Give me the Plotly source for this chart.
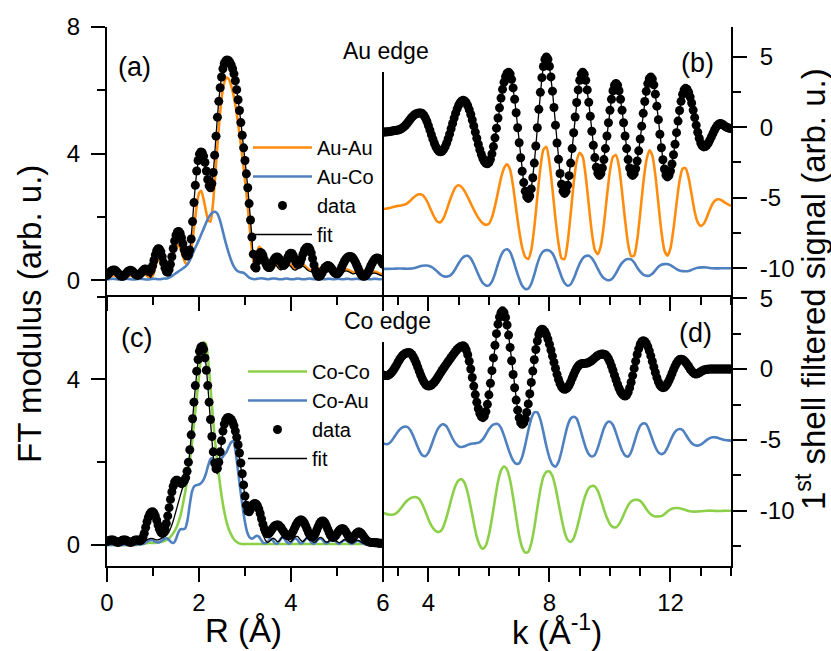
import plotly.graph_objects as go

W, H = 831, 651
FONT = "Liberation Sans, Arial, sans-serif"

# ---------------- data ----------------
# R-space (Angstrom) sampling
r_data_start, r_data_step = 0.0, 0.03
r_line_start, r_line_step = 0.0, 0.05
# k-space (1/Angstrom) sampling
k_data_start, k_data_step = 2.5, 0.05
k_line_start, k_line_step = 2.5, 0.1

# (a) Au edge, FT modulus
au_data = [
    0.15, 0.20, 0.25, 0.29, 0.31, 0.32, 0.31, 0.27, 0.22, 0.17,
    0.13, 0.12, 0.13, 0.17, 0.22, 0.27, 0.30, 0.31, 0.30, 0.26,
    0.21, 0.17, 0.15, 0.16, 0.20, 0.25, 0.30, 0.34, 0.35, 0.33,
    0.28, 0.26, 0.32, 0.45, 0.62, 0.80, 0.93, 0.99, 0.98, 0.90,
    0.74, 0.55, 0.38, 0.27, 0.25, 0.33, 0.50, 0.74, 1.00, 1.24,
    1.42, 1.52, 1.54, 1.48, 1.34, 1.15, 0.96, 0.82, 0.76, 0.80,
    0.95, 1.30, 1.85, 2.45, 3.00, 3.45, 3.78, 3.98, 4.05, 4.03,
    3.92, 3.72, 3.45, 3.18, 2.98, 2.92, 3.05, 3.40, 3.95, 4.55,
    5.15, 5.65, 6.08, 6.42, 6.68, 6.85, 6.93, 6.96, 6.94, 6.88,
    6.80, 6.68, 6.52, 6.30, 6.02, 5.70, 5.36, 4.98, 4.58, 4.18,
    3.78, 3.36, 2.92, 2.42, 1.90, 1.36, 0.82, 0.42, 0.38, 0.60,
    0.80, 0.87, 0.86, 0.78, 0.65, 0.53, 0.44, 0.40, 0.40, 0.46,
    0.56, 0.65, 0.71, 0.73, 0.72, 0.66, 0.57, 0.49, 0.46, 0.50,
    0.60, 0.72, 0.81, 0.85, 0.84, 0.77, 0.66, 0.56, 0.50, 0.50,
    0.56, 0.68, 0.82, 0.94, 1.01, 1.04, 1.03, 0.98, 0.86, 0.68,
    0.48, 0.30, 0.18, 0.12, 0.12, 0.16, 0.24, 0.33, 0.40, 0.44,
    0.46, 0.45, 0.41, 0.35, 0.28, 0.23, 0.20, 0.20, 0.24, 0.31,
    0.40, 0.50, 0.59, 0.66, 0.71, 0.74, 0.75, 0.74, 0.71, 0.65,
    0.57, 0.47, 0.37, 0.27, 0.19, 0.14, 0.12, 0.13, 0.17, 0.24,
    0.33, 0.43, 0.52, 0.60, 0.66, 0.69, 0.70, 0.68, 0.64, 0.57,
    0.50,
]
au_fit = [
    0.10, 0.18, 0.26, 0.31, 0.29, 0.21, 0.13, 0.12, 0.18, 0.26,
    0.30, 0.28, 0.21, 0.16, 0.17, 0.24, 0.31, 0.32, 0.20, 0.08,
    0.35, 0.78, 0.97, 0.96, 0.72, 0.38, 0.24, 0.34, 0.68, 1.08,
    1.40, 1.53, 1.45, 1.15, 0.85, 0.76, 0.98, 1.70, 2.65, 3.40,
    3.85, 4.04, 3.95, 3.55, 3.10, 2.90, 3.25, 4.15, 5.15, 5.95,
    6.50, 6.82, 6.95, 6.93, 6.80, 6.55, 6.18, 5.70, 5.12, 4.45,
    3.78, 3.08, 2.25, 1.36, 0.55, 0.55, 0.82, 0.86, 0.70, 0.52,
    0.45, 0.50, 0.55, 0.52, 0.42, 0.34, 0.33, 0.40, 0.47, 0.48,
    0.42, 0.34, 0.32, 0.36, 0.42, 0.44, 0.40, 0.33, 0.28, 0.27,
    0.30, 0.33, 0.33, 0.29, 0.25, 0.24, 0.26, 0.29, 0.30, 0.27,
    0.23, 0.21, 0.23, 0.27, 0.29, 0.27, 0.23, 0.20, 0.21, 0.24,
    0.26, 0.25, 0.21, 0.17, 0.17, 0.20, 0.22, 0.21, 0.18, 0.15,
    0.13,
]
au_auau = [
    0.05, 0.08, 0.12, 0.15, 0.14, 0.10, 0.06, 0.05, 0.08, 0.12,
    0.14, 0.12, 0.08, 0.06, 0.08, 0.12, 0.16, 0.16, 0.10, 0.06,
    0.15, 0.40, 0.62, 0.66, 0.52, 0.30, 0.18, 0.25, 0.50, 0.82,
    1.05, 1.10, 0.98, 0.75, 0.55, 0.50, 0.70, 1.15, 1.75, 2.35,
    2.75, 2.82, 2.55, 2.20, 1.90, 1.85, 2.35, 3.25, 4.25, 5.15,
    5.85, 6.25, 6.40, 6.35, 6.15, 5.85, 5.45, 4.95, 4.40, 3.80,
    3.15, 2.45, 1.70, 0.95, 0.45, 0.70, 1.05, 1.00, 0.80, 0.60,
    0.55, 0.62, 0.65, 0.58, 0.45, 0.38, 0.40, 0.48, 0.55, 0.55,
    0.48, 0.40, 0.38, 0.42, 0.48, 0.50, 0.45, 0.38, 0.33, 0.32,
    0.35, 0.38, 0.38, 0.34, 0.30, 0.29, 0.31, 0.34, 0.35, 0.32,
    0.28, 0.26, 0.28, 0.32, 0.34, 0.32, 0.28, 0.25, 0.26, 0.29,
    0.31, 0.30, 0.26, 0.22, 0.22, 0.25, 0.27, 0.26, 0.23, 0.20,
    0.18,
]
au_auco = [
    0.02, 0.03, 0.04, 0.04, 0.03, 0.02, 0.02, 0.03, 0.04, 0.04,
    0.03, 0.02, 0.02, 0.03, 0.04, 0.04, 0.03, 0.02, 0.02, 0.03,
    0.04, 0.04, 0.03, 0.03, 0.04, 0.05, 0.05, 0.08, 0.12, 0.17,
    0.22, 0.27, 0.32, 0.37, 0.42, 0.50, 0.62, 0.78, 0.96, 1.12,
    1.28, 1.45, 1.62, 1.80, 1.95, 2.07, 2.14, 2.16, 2.10, 1.92,
    1.65, 1.35, 1.08, 0.84, 0.62, 0.45, 0.34, 0.28, 0.25, 0.24,
    0.20, 0.13, 0.07, 0.04, 0.03, 0.04, 0.05, 0.06, 0.05, 0.04,
    0.03, 0.04, 0.05, 0.05, 0.04, 0.03, 0.03, 0.04, 0.05, 0.04,
    0.03, 0.03, 0.04, 0.05, 0.04, 0.03, 0.03, 0.04, 0.05, 0.04,
    0.03, 0.03, 0.04, 0.04, 0.03, 0.03, 0.04, 0.04, 0.03, 0.03,
    0.04, 0.04, 0.03, 0.03, 0.04, 0.04, 0.03, 0.03, 0.04, 0.04,
    0.03, 0.03, 0.04, 0.04, 0.03, 0.03, 0.04, 0.04, 0.03, 0.03,
    0.03,
]

# (c) Co edge, FT modulus
co_data = [
    0.08, 0.10, 0.11, 0.12, 0.12, 0.11, 0.09, 0.07, 0.06, 0.07,
    0.09, 0.11, 0.12, 0.12, 0.11, 0.09, 0.07, 0.06, 0.07, 0.09,
    0.11, 0.12, 0.12, 0.11, 0.10, 0.12, 0.18, 0.28, 0.42, 0.56,
    0.67, 0.75, 0.79, 0.80, 0.77, 0.70, 0.60, 0.48, 0.38, 0.31,
    0.28, 0.30, 0.38, 0.52, 0.70, 0.90, 1.10, 1.28, 1.42, 1.52,
    1.56, 1.56, 1.53, 1.50, 1.48, 1.50, 1.55, 1.62, 1.78, 2.00,
    2.30, 2.66, 3.05, 3.45, 3.85, 4.20, 4.48, 4.68, 4.78, 4.80,
    4.73, 4.52, 4.22, 3.85, 3.45, 3.03, 2.62, 2.25, 1.98, 1.84,
    1.85, 2.00, 2.25, 2.52, 2.75, 2.92, 3.02, 3.07, 3.08, 3.06,
    3.03, 2.97, 2.88, 2.75, 2.60, 2.42, 2.22, 1.98, 1.72, 1.45,
    1.18, 0.96, 0.82, 0.80, 0.86, 0.93, 0.98, 1.00, 0.99, 0.95,
    0.87, 0.76, 0.63, 0.50, 0.39, 0.31, 0.27, 0.27, 0.30, 0.35,
    0.40, 0.44, 0.47, 0.48, 0.48, 0.46, 0.42, 0.37, 0.32, 0.27,
    0.24, 0.22, 0.22, 0.24, 0.28, 0.34, 0.41, 0.48, 0.54, 0.58,
    0.60, 0.60, 0.58, 0.53, 0.46, 0.38, 0.30, 0.24, 0.20, 0.19,
    0.22, 0.28, 0.36, 0.44, 0.51, 0.56, 0.58, 0.57, 0.53, 0.46,
    0.38, 0.30, 0.23, 0.19, 0.18, 0.20, 0.24, 0.29, 0.34, 0.37,
    0.39, 0.39, 0.37, 0.32, 0.26, 0.20, 0.16, 0.15, 0.17, 0.21,
    0.25, 0.29, 0.31, 0.31, 0.29, 0.25, 0.20, 0.15, 0.11, 0.08,
    0.07, 0.06, 0.06, 0.06, 0.05, 0.05, 0.05, 0.04, 0.04, 0.04,
    0.04,
]
co_fit = [
    0.02, 0.03, 0.04, 0.04, 0.03, 0.03, 0.04, 0.05, 0.05, 0.04,
    0.03, 0.04, 0.05, 0.05, 0.05, 0.06, 0.08, 0.11, 0.14, 0.16,
    0.15, 0.13, 0.12, 0.14, 0.17, 0.20, 0.24, 0.32, 0.45, 0.62,
    0.82, 1.02, 1.22, 1.40, 1.55, 1.80, 2.25, 2.90, 3.55, 4.15,
    4.58, 4.78, 4.74, 4.38, 3.72, 2.98, 2.28, 1.80, 1.72, 2.10,
    2.55, 2.88, 3.04, 3.08, 3.02, 2.85, 2.60, 2.30, 1.95, 1.55,
    1.18, 0.90, 0.80, 0.86, 0.90, 0.82, 0.62, 0.40, 0.22, 0.10,
    0.06, 0.10, 0.16, 0.14, 0.08, 0.10, 0.18, 0.22, 0.18, 0.10,
    0.08, 0.14, 0.20, 0.20, 0.13, 0.08, 0.12, 0.19, 0.18, 0.11,
    0.06, 0.09, 0.16, 0.18, 0.14, 0.08, 0.07, 0.12, 0.15, 0.13,
    0.08, 0.05, 0.08, 0.12, 0.12, 0.08, 0.05, 0.05, 0.09, 0.11,
    0.09, 0.05, 0.03, 0.03, 0.03, 0.03, 0.03, 0.02, 0.02, 0.02,
    0.02,
]
co_coco = [
    0.00, 0.00, 0.00, 0.00, 0.00, 0.00, 0.00, 0.00, 0.00, 0.00,
    0.00, 0.00, 0.00, 0.00, 0.01, 0.02, 0.03, 0.04, 0.05, 0.05,
    0.05, 0.05, 0.06, 0.07, 0.08, 0.10, 0.12, 0.16, 0.22, 0.30,
    0.40, 0.54, 0.72, 0.98, 1.28, 1.62, 2.02, 2.50, 3.02, 3.55,
    4.08, 4.62, 4.90, 4.86, 4.45, 3.80, 3.10, 2.50, 1.98, 1.52,
    1.12, 0.80, 0.55, 0.37, 0.25, 0.15, 0.09, 0.05, 0.03, 0.02,
    0.02, 0.02, 0.02, 0.02, 0.02, 0.02, 0.02, 0.02, 0.02, 0.02,
    0.02, 0.02, 0.02, 0.02, 0.02, 0.02, 0.02, 0.02, 0.02, 0.02,
    0.02, 0.02, 0.02, 0.02, 0.02, 0.02, 0.02, 0.02, 0.02, 0.02,
    0.02, 0.02, 0.02, 0.02, 0.02, 0.02, 0.02, 0.02, 0.02, 0.02,
    0.02, 0.02, 0.02, 0.02, 0.02, 0.02, 0.02, 0.02, 0.02, 0.02,
    0.02, 0.02, 0.02, 0.02, 0.02, 0.02, 0.02, 0.02, 0.02, 0.02,
    0.02,
]
co_coau = [
    0.00, 0.00, 0.00, 0.00, 0.00, 0.00, 0.00, 0.00, 0.00, 0.00,
    0.00, 0.00, 0.00, 0.01, 0.01, 0.02, 0.03, 0.06, 0.10, 0.12,
    0.11, 0.08, 0.06, 0.07, 0.11, 0.15, 0.16, 0.12, 0.06, 0.05,
    0.14, 0.30, 0.38, 0.38, 0.40, 0.60, 0.98, 1.30, 1.42, 1.45,
    1.46, 1.50, 1.58, 1.72, 1.92, 2.08, 2.10, 1.88, 1.78, 1.95,
    2.10, 2.18, 2.25, 2.38, 2.48, 2.50, 2.22, 1.78, 1.32, 0.90,
    0.55, 0.30, 0.18, 0.15, 0.18, 0.22, 0.20, 0.12, 0.05, 0.04,
    0.08, 0.15, 0.12, 0.04, 0.03, 0.10, 0.18, 0.16, 0.08, 0.03,
    0.06, 0.13, 0.16, 0.11, 0.04, 0.05, 0.12, 0.16, 0.12, 0.05,
    0.03, 0.08, 0.14, 0.15, 0.10, 0.04, 0.05, 0.11, 0.14, 0.11,
    0.05, 0.03, 0.07, 0.11, 0.11, 0.07, 0.03, 0.04, 0.08, 0.10,
    0.08, 0.04, 0.02, 0.02, 0.03, 0.03, 0.02, 0.02, 0.02, 0.02,
    0.02,
]

# (b) Au edge, 1st shell filtered signal
kb_data = [
    -0.35, -0.35, -0.34, -0.33, -0.32, -0.30, -0.28, -0.26, -0.24, -0.22,
    -0.20, -0.17, -0.12, -0.05, 0.04, 0.15, 0.28, 0.42, 0.56, 0.69,
    0.80, 0.89, 0.95, 0.99, 1.01, 1.00, 0.96, 0.84, 0.66, 0.41,
    0.11, -0.21, -0.54, -0.86, -1.16, -1.41, -1.59, -1.71, -1.75, -1.71,
    -1.59, -1.40, -1.15, -0.84, -0.49, -0.11, 0.26, 0.64, 0.99, 1.30,
    1.55, 1.74, 1.86, 1.90, 1.86, 1.73, 1.52, 1.24, 0.90, 0.51,
    0.09, -0.35, -0.79, -1.21, -1.60, -1.94, -2.22, -2.43, -2.56, -2.60,
    -2.52, -2.28, -1.89, -1.38, -0.76, -0.07, 0.65, 1.37, 2.06, 2.68,
    3.19, 3.58, 3.82, 3.90, 3.77, 3.39, 2.78, 1.98, 1.02, -0.04,
    -1.11, -2.17, -3.13, -3.93, -4.54, -4.92, -5.05, -4.88, -4.38, -3.59,
    -2.55, -1.34, -0.04, 1.26, 2.47, 3.51, 4.30, 4.80, 4.97, 4.81,
    4.32, 3.56, 2.55, 1.39, 0.14, -1.12, -2.28, -3.29, -4.05, -4.54,
    -4.70, -4.55, -4.12, -3.44, -2.55, -1.52, -0.40, 0.72, 1.75, 2.64,
    3.32, 3.75, 3.90, 3.75, 3.32, 2.64, 1.76, 0.77, -0.29, -1.28,
    -2.16, -2.84, -3.27, -3.42, -3.29, -2.90, -2.30, -1.52, -0.63, 0.31,
    1.20, 1.98, 2.58, 2.97, 3.10, 2.97, 2.58, 1.98, 1.20, 0.31,
    -0.63, -1.52, -2.30, -2.90, -3.29, -3.42, -3.30, -2.95, -2.40, -1.68,
    -0.84, 0.07, 0.98, 1.82, 2.54, 3.09, 3.44, 3.56, 3.42, 3.00,
    2.34, 1.49, 0.53, -0.50, -1.46, -2.31, -2.97, -3.39, -3.53, -3.42,
    -3.11, -2.61, -1.96, -1.21, -0.39, 0.43, 1.18, 1.83, 2.33, 2.64,
    2.75, 2.68, 2.47, 2.14, 1.71, 1.21, 0.68, 0.14, -0.36, -0.79,
    -1.12, -1.33, -1.40, -1.37, -1.27, -1.12, -0.92, -0.69, -0.46, -0.23,
    -0.03, 0.12, 0.22, 0.25, 0.22, 0.15, 0.07, 0.00, -0.05, -0.08,
    -0.10,
]
kb_auau = [
    -5.80, -5.78, -5.74, -5.68, -5.62, -5.58,
    -5.55, -5.50, -5.40, -5.22, -5.00, -4.83, -4.76, -4.80, -5.05, -5.45,
    -5.95, -6.40, -6.70, -6.74, -6.45, -5.90, -5.25, -4.68, -4.25, -4.12,
    -4.25, -4.55, -4.95, -5.40, -5.85, -6.25, -6.58, -6.82, -6.93, -6.85,
    -6.40, -5.60, -4.60, -3.60, -2.90, -2.64, -3.00, -4.20, -5.80, -7.35,
    -8.55, -9.20, -9.35, -8.70, -7.10, -4.95, -2.90, -1.60, -1.40, -2.50,
    -4.40, -6.50, -8.25, -9.30, -9.35, -8.20, -6.20, -4.00, -2.40, -1.82,
    -2.10, -3.50, -5.50, -7.45, -8.70, -9.00, -8.40, -6.90, -4.90, -3.10,
    -2.10, -1.98, -2.80, -4.60, -6.60, -8.30, -9.15, -9.10, -8.00, -6.10,
    -4.00, -2.40, -1.65, -2.00, -3.40, -5.40, -7.40, -8.75, -9.12, -8.60,
    -7.20, -5.40, -3.80, -2.95, -2.90, -3.60, -4.80, -6.00, -6.75, -7.00,
    -6.85, -6.40, -5.85, -5.40, -5.15, -5.11, -5.20, -5.35, -5.48, -5.58,
]
kb_auco = [
    -10.05, -10.05, -10.05, -10.04, -10.03, -10.02,
    -10.02, -10.03, -10.04, -10.03, -10.00, -9.95, -9.88, -9.83, -9.81, -9.82,
    -9.90, -10.05, -10.25, -10.45, -10.57, -10.60, -10.55, -10.35, -10.02, -9.65,
    -9.33, -9.15, -9.12, -9.30, -9.70, -10.20, -10.68, -11.05, -11.22, -11.22,
    -10.95, -10.40, -9.70, -9.10, -8.75, -8.66, -8.85, -9.40, -10.10, -10.75,
    -11.25, -11.47, -11.45, -11.10, -10.45, -9.70, -9.10, -8.80, -8.72, -8.75,
    -8.95, -9.40, -10.00, -10.60, -11.05, -11.24, -11.15, -10.75, -10.20, -9.68,
    -9.30, -9.14, -9.12, -9.28, -9.62, -10.05, -10.45, -10.72, -10.83, -10.84,
    -10.68, -10.35, -9.95, -9.62, -9.42, -9.35, -9.38, -9.60, -9.95, -10.25,
    -10.45, -10.53, -10.53, -10.40, -10.15, -9.90, -9.76, -9.71, -9.71, -9.78,
    -9.92, -10.06, -10.16, -10.21, -10.22, -10.20, -10.12, -10.03, -9.97, -9.94,
    -9.94, -9.95, -9.98, -10.00, -10.01, -10.01, -10.00, -10.00, -10.00, -10.00,
]

# (d) Co edge, 1st shell filtered signal
kd_data = [
    -0.42, -0.45, -0.46, -0.45, -0.40, -0.32, -0.20, -0.05, 0.12, 0.30,
    0.50, 0.68, 0.84, 0.97, 1.06, 1.12, 1.16, 1.17, 1.14, 1.03,
    0.87, 0.66, 0.41, 0.13, -0.16, -0.44, -0.69, -0.90, -1.06, -1.16,
    -1.20, -1.18, -1.12, -1.03, -0.91, -0.77, -0.61, -0.44, -0.27, -0.10,
    0.06, 0.22, 0.37, 0.52, 0.67, 0.82, 0.97, 1.11, 1.25, 1.38,
    1.49, 1.57, 1.62, 1.64, 1.57, 1.35, 1.01, 0.55, 0.01, -0.59,
    -1.20, -1.80, -2.34, -2.80, -3.14, -3.35, -3.43, -3.32, -3.00, -2.49,
    -1.82, -1.00, -0.11, 0.79, 1.68, 2.50, 3.17, 3.68, 3.99, 4.11,
    3.99, 3.65, 3.11, 2.40, 1.53, 0.59, -0.38, -1.32, -2.19, -2.90,
    -3.44, -3.78, -3.90, -3.80, -3.52, -3.06, -2.46, -1.74, -0.94, -0.14,
    0.66, 1.38, 1.98, 2.44, 2.72, 2.82, 2.77, 2.64, 2.42, 2.12,
    1.76, 1.35, 0.92, 0.47, 0.04, -0.37, -0.73, -1.03, -1.25, -1.38,
    -1.43, -1.40, -1.30, -1.14, -0.92, -0.66, -0.40, -0.15, 0.06, 0.22,
    0.32, 0.37, 0.39, 0.40, 0.41, 0.43, 0.47, 0.53, 0.61, 0.70,
    0.79, 0.88, 0.96, 1.02, 1.05, 1.06, 1.05, 1.01, 0.90, 0.73,
    0.50, 0.22, -0.10, -0.43, -0.75, -1.07, -1.35, -1.58, -1.75, -1.86,
    -1.90, -1.83, -1.64, -1.33, -0.93, -0.46, 0.05, 0.56, 1.03, 1.43,
    1.74, 1.93, 2.00, 1.95, 1.81, 1.59, 1.29, 0.93, 0.54, 0.15,
    -0.24, -0.60, -0.90, -1.12, -1.26, -1.31, -1.28, -1.18, -1.02, -0.81,
    -0.57, -0.31, -0.04, 0.20, 0.41, 0.57, 0.67, 0.70, 0.67, 0.60,
    0.48, 0.34, 0.18, 0.01, -0.13, -0.25, -0.33, -0.35, -0.32, -0.26,
    -0.19, -0.12, -0.07, -0.04, -0.02, -0.01, 0.00, 0.00, 0.00, 0.00,
    0.00, 0.00, 0.00, 0.00, 0.00, 0.00, 0.00, 0.00, 0.00, 0.00,
    0.00,
]
kd_coau = [
    -5.23, -5.30, -5.25, -5.02, -4.70, -4.40,
    -4.18, -4.07, -4.08, -4.30, -4.72, -5.25, -5.75, -6.08, -6.15, -5.90,
    -5.38, -4.78, -4.27, -3.98, -3.90, -4.05, -4.45, -4.90, -5.25, -5.45,
    -5.50, -5.45, -5.35, -5.28, -5.25, -5.22, -5.15, -4.95, -4.62, -4.25,
    -3.98, -3.88, -3.88, -4.15, -4.70, -5.35, -5.98, -6.45, -6.68, -6.65,
    -6.20, -5.35, -4.35, -3.50, -3.05, -3.05, -3.55, -4.45, -5.45, -6.25,
    -6.75, -6.88, -6.55, -5.80, -4.85, -4.00, -3.50, -3.36, -3.50, -4.10,
    -4.85, -5.55, -6.00, -6.17, -6.05, -5.55, -4.85, -4.18, -3.78, -3.71,
    -3.95, -4.50, -5.15, -5.75, -6.10, -6.17, -5.85, -5.20, -4.50, -4.00,
    -3.83, -3.90, -4.35, -4.95, -5.50, -5.88, -6.00, -5.90, -5.55, -5.05,
    -4.60, -4.32, -4.23, -4.30, -4.60, -4.95, -5.22, -5.37, -5.40, -5.33,
    -5.18, -5.00, -4.87, -4.81, -4.82, -4.88, -4.95, -5.00, -5.03, -5.05,
]
kd_coco = [
    -10.16, -10.22, -10.27, -10.28, -10.22, -10.05,
    -9.80, -9.52, -9.28, -9.12, -9.05, -9.04, -9.18, -9.55, -10.05, -10.60,
    -11.05, -11.35, -11.49, -11.45, -11.10, -10.45, -9.65, -8.85, -8.20, -7.85,
    -7.77, -8.05, -8.75, -9.75, -10.85, -11.85, -12.45, -12.68, -12.45, -11.70,
    -10.55, -9.20, -7.95, -7.15, -6.88, -7.10, -7.85, -9.05, -10.45, -11.75,
    -12.60, -12.95, -12.90, -12.30, -11.20, -9.80, -8.50, -7.60, -7.25, -7.23,
    -7.55, -8.35, -9.45, -10.55, -11.50, -12.05, -12.20, -11.95, -11.30, -10.45,
    -9.55, -8.85, -8.40, -8.25, -8.28, -8.60, -9.20, -9.90, -10.50, -10.95,
    -11.15, -11.17, -10.95, -10.55, -10.05, -9.62, -9.35, -9.24, -9.23, -9.30,
    -9.55, -9.88, -10.15, -10.33, -10.40, -10.40, -10.38, -10.25, -10.05, -9.90,
    -9.83, -9.81, -9.82, -9.88, -9.95, -10.02, -10.05, -10.06, -10.05, -10.04,
    -10.02, -10.00, -9.99, -10.00, -10.02, -10.02, -10.01, -10.00, -10.00, -10.00,
]

# tick labels
r_ticks = [0, 2, 4, 6]
k_ticks = [4, 8, 12]
sig_tickvals = [-10, -5, 0, 5]
sig_ticktext = ["-10", "-5", "0", "5"]

ORANGE = "#FF8C0F"
BLUE = "#4F81C0"
GREEN = "#8CD04A"


def grid(start, step, values):
    return [round(start + step * i, 4) for i in range(len(values))]


fig = go.Figure()


def line(x, y, color, name, xa, ya, legend=None, width=2.6, show=True):
    fig.add_trace(go.Scatter(
        x=x, y=y, mode="lines", name=name, xaxis=xa, yaxis=ya,
        line=dict(color=color, width=width, shape="spline", smoothing=0.6),
        showlegend=show, legend=legend))


def dots(x, y, xa, ya, legend=None, show=True, with_line=False):
    fig.add_trace(go.Scatter(
        x=x, y=y, mode="lines+markers" if with_line else "markers",
        name="data", xaxis=xa, yaxis=ya,
        marker=dict(color="black", size=9, line=dict(width=0)),
        line=dict(color="black", width=1.3),
        showlegend=show, legend=legend))


# panel (a)
line(grid(r_line_start, r_line_step, au_auau), au_auau, ORANGE, "Au-Au", "x", "y", "legend")
line(grid(r_line_start, r_line_step, au_auco), au_auco, BLUE, "Au-Co", "x", "y", "legend")
dots(grid(r_data_start, r_data_step, au_data), au_data, "x", "y", "legend")
line(grid(r_line_start, r_line_step, au_fit), au_fit, "black", "fit", "x", "y", "legend", width=1.3)

# panel (b)
line(grid(k_line_start, k_line_step, kb_auau), kb_auau, ORANGE, "Au-Au", "x2", "y2", show=False)
line(grid(k_line_start, k_line_step, kb_auco), kb_auco, BLUE, "Au-Co", "x2", "y2", show=False)
dots(grid(k_data_start, k_data_step, kb_data), kb_data, "x2", "y2", show=False, with_line=True)

# panel (c)
line(grid(r_line_start, r_line_step, co_coco), co_coco, GREEN, "Co-Co", "x3", "y3", "legend2")
line(grid(r_line_start, r_line_step, co_coau), co_coau, BLUE, "Co-Au", "x3", "y3", "legend2")
dots(grid(r_data_start, r_data_step, co_data), co_data, "x3", "y3", "legend2")
line(grid(r_line_start, r_line_step, co_fit), co_fit, "black", "fit", "x3", "y3", "legend2", width=1.3)

# panel (d)
line(grid(k_line_start, k_line_step, kd_coau), kd_coau, BLUE, "Co-Au", "x4", "y4", show=False)
line(grid(k_line_start, k_line_step, kd_coco), kd_coco, GREEN, "Co-Co", "x4", "y4", show=False)
dots(grid(k_data_start, k_data_step, kd_data), kd_data, "x4", "y4", show=False, with_line=True)

# ---------------- layout ----------------
def fx(p):
    return p / W


def fy(p):
    return 1 - p / H


TICKFONT = dict(family=FONT, size=24, color="black")
MINOR = dict(ticks="outside", ticklen=8, tickwidth=2, tickcolor="black")


def ax(**kw):
    base = dict(showline=True, linecolor="black", linewidth=2, ticks="outside",
                tickcolor="black", tickwidth=2, ticklen=14, showgrid=False,
                zeroline=False, tickfont=TICKFONT, automargin=False)
    base.update(kw)
    return base


X_LEFT = [fx(107), fx(383)]
X_RIGHT = [fx(383), fx(731)]
Y_TOP = [fy(295), fy(27)]
Y_BOT = [fy(566), fy(295)]

LEGFONT = dict(family=FONT, size=20, color="black")

layout = dict(
    width=W, height=H, autosize=False,
    margin=dict(l=0, r=0, t=0, b=0, pad=0, autoexpand=False),
    paper_bgcolor="white", plot_bgcolor="rgba(0,0,0,0)",
    font=dict(family=FONT, color="black"),
    xaxis=ax(domain=X_LEFT, anchor="y", range=[0, 6], tickmode="linear", tick0=0, dtick=2,
             showticklabels=False, minor=dict(dtick=1, tick0=0, **MINOR)),
    yaxis=ax(domain=Y_TOP, anchor="x", range=[-0.47, 8], tickmode="linear", tick0=0, dtick=4,
             minor=dict(dtick=2, tick0=0, **MINOR), ticklabelstandoff=6),
    xaxis2=ax(domain=X_RIGHT, anchor="y2", range=[2.5, 14], tickmode="linear", tick0=0, dtick=4,
              showticklabels=False, minor=dict(dtick=1, tick0=0, **MINOR)),
    yaxis2=ax(domain=Y_TOP, anchor="x2", side="right", range=[-11.9, 7.1], tickmode="array",
              tickvals=sig_tickvals, ticktext=sig_ticktext, ticklabelstandoff=8,
              minor=dict(tickmode="array", tickvals=[-7.5, -2.5, 2.5], **MINOR)),
    xaxis3=ax(domain=X_LEFT, anchor="y3", range=[0, 6], tickmode="array", tickvals=r_ticks,
              minor=dict(dtick=1, tick0=0, **MINOR)),
    yaxis3=ax(domain=Y_BOT, anchor="x3", range=[-0.51, 6.04], tickmode="linear", tick0=0, dtick=4,
              minor=dict(dtick=2, tick0=0, **MINOR), ticklabelstandoff=6),
    xaxis4=ax(domain=X_RIGHT, anchor="y4", range=[2.5, 14], tickmode="array", tickvals=k_ticks,
              minor=dict(dtick=1, tick0=0, **MINOR)),
    yaxis4=ax(domain=Y_BOT, anchor="x4", side="right", range=[-13.9, 5.23], tickmode="array",
              tickvals=sig_tickvals, ticktext=sig_ticktext, ticklabelstandoff=8,
              minor=dict(tickmode="array", tickvals=[-12.5, -7.5, -2.5, 2.5], **MINOR)),
    xaxis5=ax(overlaying="x", anchor="y", side="top", range=[0, 6], ticks="inside", tickmode="linear",
              tick0=0, dtick=1, ticklen=10, showticklabels=False),
    xaxis6=ax(overlaying="x2", anchor="y2", side="top", range=[2.5, 14], ticks="inside", tickmode="linear",
              tick0=0, dtick=1, ticklen=8, showticklabels=False),
    legend=dict(x=fx(248), y=fy(128), xanchor="left", yanchor="top", bgcolor="rgba(0,0,0,0)",
                font=LEGFONT, itemwidth=59, tracegroupgap=0),
    legend2=dict(x=fx(243), y=fy(352), xanchor="left", yanchor="top", bgcolor="rgba(0,0,0,0)",
                 font=LEGFONT, itemwidth=59, tracegroupgap=0),
    showlegend=True,
)
fig.update_layout(**layout)

# inner divider between the R and k panels
fig.add_shape(type="line", xref="paper", yref="paper", x0=fx(383), x1=fx(383), y0=fy(72), y1=fy(295),
              line=dict(color="black", width=2))
fig.add_shape(type="line", xref="paper", yref="paper", x0=fx(383), x1=fx(383), y0=fy(342), y1=fy(566),
              line=dict(color="black", width=2))


def note(text, px, py, size, angle=0):
    fig.add_annotation(text=text, xref="paper", yref="paper", x=fx(px), y=fy(py),
                       xanchor="center", yanchor="middle", showarrow=False, textangle=angle,
                       font=dict(family=FONT, size=size, color="black"))


note("(a)", 134, 67, 27)
note("(b)", 697, 63, 27)
note("(c)", 136, 338, 27)
note("(d)", 695, 333, 27)
note("Au edge", 386, 51, 23)
note("Co edge", 387, 321, 23)
note("FT modulus (arb. u.)", 29, 314, 33, -90)
note("1<sup>st</sup> shell filtered signal (arb. u.)", 811, 289, 33, -90)
note("R (Å)", 244, 630, 33)
note("k (Å<sup>-1</sup>)", 557, 630, 33)

fig.write_html("out.html")
